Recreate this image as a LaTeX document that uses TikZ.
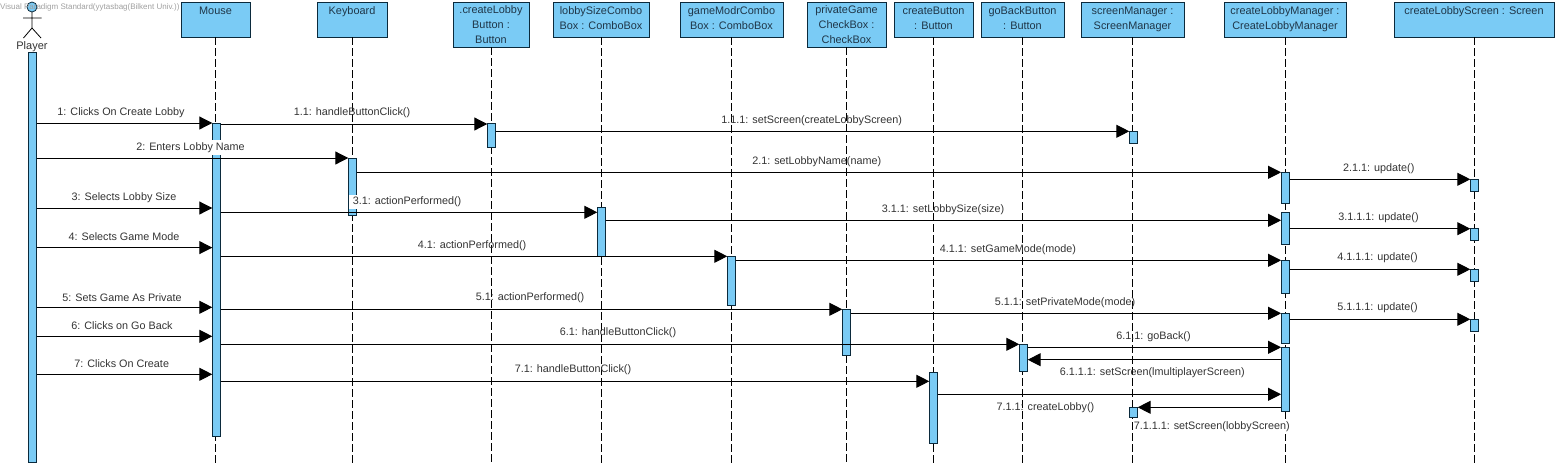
\documentclass[tikz,border=0pt]{standalone}
\usepackage{fontspec}
\setmainfont{Liberation Sans}
\usetikzlibrary{arrows.meta}
\definecolor{objblue}{HTML}{7ACBF5}
\definecolor{objline}{HTML}{0B2A3C}
\definecolor{objtext}{HTML}{1F3648}
\definecolor{msgtext}{HTML}{333333}

\begin{document}
\begin{tikzpicture}[
    x=1pt, y=-1pt,
    base/.style = {rectangle, draw=objline, fill=objblue, line width=1pt, inner sep=0pt, outer sep=0pt},
    objbox/.style = {base, anchor=north west, align=center, text=objtext, minimum height=34.3pt,
font=\fontsize{10.9}{15}\selectfont, text height=23pt, text depth=4.7pt},
    objsingle/.style = {objbox, text height=8pt, text depth=19.7pt},
    objtall/.style = {objbox, minimum height=44.3pt, text height=40.5pt, text depth=3pt},
    act/.style = {base, anchor=north, minimum width=8.4pt},
    lifeline/.style = {draw=black, line width=1pt, dash pattern=on 8pt off 3pt},
    msg/.style = {draw=black, line width=1pt, -{Triangle[length=13pt,width=13pt]}},
    msgtxt/.style = {text=msgtext, inner sep=0pt, yshift=-1.5pt, font=\fontsize{10.8}{12}\selectfont},
    msghide/.style = {msgtxt, fill=white, inner xsep=4pt, inner ysep=2pt}
]
  \useasboundingbox (0,0) rectangle (1558,467);

  % objects
  \node (mouse)    [objsingle, minimum width=69pt]  at (181,2.7) {Mouse};
  \node (keyboard) [objsingle, minimum width=70pt]  at (317,2.7) {Keyboard};
  \node (lobbybtn) [objtall, minimum width=76pt]    at (453,2.7) {.createLobby\\Button :\\Button};
  \node (sizebox)  [objbox, minimum width=96pt]     at (553,2.7) {lobbySizeCombo\\Box : ComboBox};
  \node (modebox)  [objbox, minimum width=103pt]    at (680,2.7) {gameModrCombo\\Box : ComboBox};
  \node (privbox)  [objtall, minimum width=79pt]    at (807,2.7) {privateGame\\CheckBox :\\CheckBox};
  \node (createbtn)[objbox, minimum width=79pt]     at (894,2.7) {createButton\\: Button};
  \node (backbtn)  [objbox, minimum width=83pt]     at (981,2.7) {goBackButton\\: Button};
  \node (scrmgr)   [objbox, minimum width=103pt]    at (1081,2.7) {screenManager :\\ScreenManager};
  \node (lobbymgr) [objbox, minimum width=122pt]    at (1224,2.7) {createLobbyManager :\\CreateLobbyManager};
  \node (screen)   [objsingle, minimum width=160pt] at (1394,2.7) {createLobbyScreen : Screen};

  % player
  \node (head) [base, circle, minimum size=10pt, line width=0.8pt] at (32,7) {};
  \draw[line width=0.8pt, black] (head.south) -- (32,28) (23,18) -- (41.5,18) (23.5,38) -- (32,28) -- (41,38);
  \node (player) [msgtxt, font=\fontsize{11}{12}\selectfont] at (32,45) {Player};
  \node (mark) [anchor=west, inner sep=0pt, text=gray!75, font=\fontsize{8}{9}\selectfont] at (0,7) {Visual Paradigm Standard(yytasbag(Bilkent Univ.))};

  % lifelines
  \draw[lifeline] (mouse.south -| 215.3,0) -- (215.3,463);
  \draw[lifeline] (keyboard.south) -- (keyboard.south |- 0,463);
  \draw[lifeline] (lobbybtn.south) -- (lobbybtn.south |- 0,463);
  \draw[lifeline] (sizebox.south) -- (sizebox.south |- 0,463);
  \draw[lifeline] (modebox.south) -- (modebox.south |- 0,463);
  \draw[lifeline] (privbox.south) -- (privbox.south |- 0,463);
  \draw[lifeline] (createbtn.south) -- (createbtn.south |- 0,463);
  \draw[lifeline] (backbtn.south) -- (backbtn.south |- 0,463);
  \draw[lifeline] (scrmgr.south) -- (scrmgr.south |- 0,463);
  \draw[lifeline] (lobbymgr.south) -- (lobbymgr.south |- 0,463);
  \draw[lifeline] (screen.south) -- (screen.south |- 0,463);

  % activations
  \node (actPlayer) [act, minimum height=410pt] at (32.5,52) {};
  \node (actMouse)  [act, minimum height=313pt] at (216.5,123) {};
  \node (actKey)    [act, minimum height=57.7pt] at (352.5,158) {};
  \node (actLobby)  [act, minimum height=24pt] at (491.5,123) {};
  \node (actSize)   [act, minimum height=49pt] at (601.5,207.3) {};
  \node (actMode)   [act, minimum height=49pt] at (731.5,256) {};
  \node (actPriv)   [act, minimum height=46pt] at (846.5,309.3) {};
  \node (actCreate) [act, minimum height=71pt] at (933.5,372.3) {};
  \node (actBack)   [act, minimum height=27pt] at (1023.5,344.3) {};
  \node (actMgrA)   [act, minimum height=12.4pt] at (1133.5,131.3) {};
  \node (actMgrB)   [act, minimum height=10pt] at (1133.5,407.3) {};
  \node (actClmA)   [act, minimum height=31pt] at (1285.3,172.3) {};
  \node (actClmB)   [act, minimum height=32pt] at (1285.3,212.3) {};
  \node (actClmC)   [act, minimum height=33pt] at (1285.3,260.3) {};
  \node (actClmD)   [act, minimum height=30pt] at (1285.3,313.3) {};
  \node (actClmE)   [act, minimum height=64pt] at (1285.3,347.3) {};
  \node (actScrA)   [act, minimum height=12pt] at (1474.5,179.3) {};
  \node (actScrB)   [act, minimum height=12pt] at (1474.5,228.7) {};
  \node (actScrC)   [act, minimum height=12pt] at (1474.5,269.3) {};
  \node (actScrD)   [act, minimum height=12pt] at (1474.5,319.3) {};

  % labels
  \node (lblA)     [msgtxt] at (121,111) {1: Clicks On Create Lobby};
  \node (lblAa)    [msgtxt] at (352,111) {1.1: handleButtonClick()};
  \node (lblAaa)   [msgtxt] at (811.7,119) {1.1.1: setScreen(createLobbyScreen)};
  \node (lblB)     [msghide] at (190.5,146) {2: Enters Lobby Name};
  \node (lblBa)    [msgtxt] at (816.7,160) {2.1: setLobbyName(name)};
  \node (lblBaa)   [msgtxt] at (1378.8,167.3) {2.1.1: update()};
  \node (lblC)     [msgtxt] at (124,196) {3: Selects Lobby Size};
  \node (lblCa)    [msghide] at (407,200.3) {3.1: actionPerformed()};
  \node (lblCaa)   [msgtxt] at (943,208) {3.1.1: setLobbySize(size)};
  \node (lblCaaa)  [msgtxt] at (1378.5,216.3) {3.1.1.1: update()};
  \node (lblD)     [msgtxt] at (124,235) {4: Selects Game Mode};
  \node (lblDa)    [msgtxt] at (472,244.3) {4.1: actionPerformed()};
  \node (lblDaa)   [msgtxt] at (1008,248) {4.1.1: setGameMode(mode)};
  \node (lblDaaa)  [msgtxt] at (1377.5,256.3) {4.1.1.1: update()};
  \node (lblE)     [msgtxt] at (122,296) {5: Sets Game As Private};
  \node (lblEa)    [msgtxt] at (530,296) {5.1: actionPerformed()};
  \node (lblEaa)   [msgtxt] at (1065,301) {5.1.1: setPrivateMode(mode)};
  \node (lblEaaa)  [msgtxt] at (1377.5,306.3) {5.1.1.1: update()};
  \node (lblF)     [msgtxt] at (122,324) {6: Clicks on Go Back};
  \node (lblFa)    [msgtxt] at (618,331) {6.1: handleButtonClick()};
  \node (lblFaa)   [msgtxt] at (1153.5,335.3) {6.1.1: goBack()};
  \node (lblFaaa)  [msgtxt] at (1152.3,371.3) {6.1.1.1: setScreen(lmultiplayerScreen)};
  \node (lblG)     [msgtxt] at (121.7,362.3) {7: Clicks On Create};
  \node (lblGa)    [msgtxt] at (573,368) {7.1: handleButtonClick()};
  \node (lblGaa)   [msgtxt] at (1045.5,405.7) {7.1.1: createLobby()};
  \node (lblGaaa)  [msghide, inner xsep=1pt] at (1211.7,425.3) {7.1.1.1: setScreen(lobbyScreen)};

  % messages
  \draw[msg] (actPlayer.east |- 0,123) -- (actMouse.west |- 0,123);
  \draw[msg] (actMouse.east |- 0,124) -- (actLobby.west |- 0,124);
  \draw[msg] (actLobby.east |- 0,131.3) -- (actMgrA.west |- 0,131.3);
  \draw[msg] (actPlayer.east |- 0,158) -- (actKey.west |- 0,158);
  \draw[msg] (actKey.east |- 0,172.3) -- (actClmA.west |- 0,172.3);
  \draw[msg] (actClmA.east |- 0,179.3) -- (actScrA.west |- 0,179.3);
  \draw[msg] (actPlayer.east |- 0,208) -- (actMouse.west |- 0,208);
  \draw[msg] (actMouse.east |- 0,212.3) -- (actSize.west |- 0,212.3);
  \draw[msg] (actSize.east |- 0,220.3) -- (actClmB.west |- 0,220.3);
  \draw[msg] (actClmB.east |- 0,228.7) -- (actScrB.west |- 0,228.7);
  \draw[msg] (actPlayer.east |- 0,247.6) -- (actMouse.west |- 0,247.6);
  \draw[msg] (actMouse.east |- 0,256.3) -- (actMode.west |- 0,256.3);
  \draw[msg] (actMode.east |- 0,260.3) -- (actClmC.west |- 0,260.3);
  \draw[msg] (actClmC.east |- 0,269.3) -- (actScrC.west |- 0,269.3);
  \draw[msg] (actPlayer.east |- 0,307.3) -- (actMouse.west |- 0,307.3);
  \draw[msg] (actMouse.east |- 0,309.3) -- (actPriv.west |- 0,309.3);
  \draw[msg] (actPriv.east |- 0,313.3) -- (actClmD.west |- 0,313.3);
  \draw[msg] (actClmD.east |- 0,319.3) -- (actScrD.west |- 0,319.3);
  \draw[msg] (actPlayer.east |- 0,336.3) -- (actMouse.west |- 0,336.3);
  \draw[msg] (actMouse.east |- 0,344.3) -- (actBack.west |- 0,344.3);
  \draw[msg] (actBack.east |- 0,347.3) -- (actClmE.west |- 0,347.3);
  \draw[msg] (actClmE.west |- 0,359.7) -- (actBack.east |- 0,359.7);
  \draw[msg] (actPlayer.east |- 0,374.3) -- (actMouse.west |- 0,374.3);
  \draw[msg] (actMouse.east |- 0,381.3) -- (actCreate.west |- 0,381.3);
  \draw[msg] (actCreate.east |- 0,394.3) -- (actClmE.west |- 0,394.3);
  \draw[msg] (actClmE.west |- 0,407.3) -- (actMgrB.east |- 0,407.3);

\end{tikzpicture}
\end{document}
